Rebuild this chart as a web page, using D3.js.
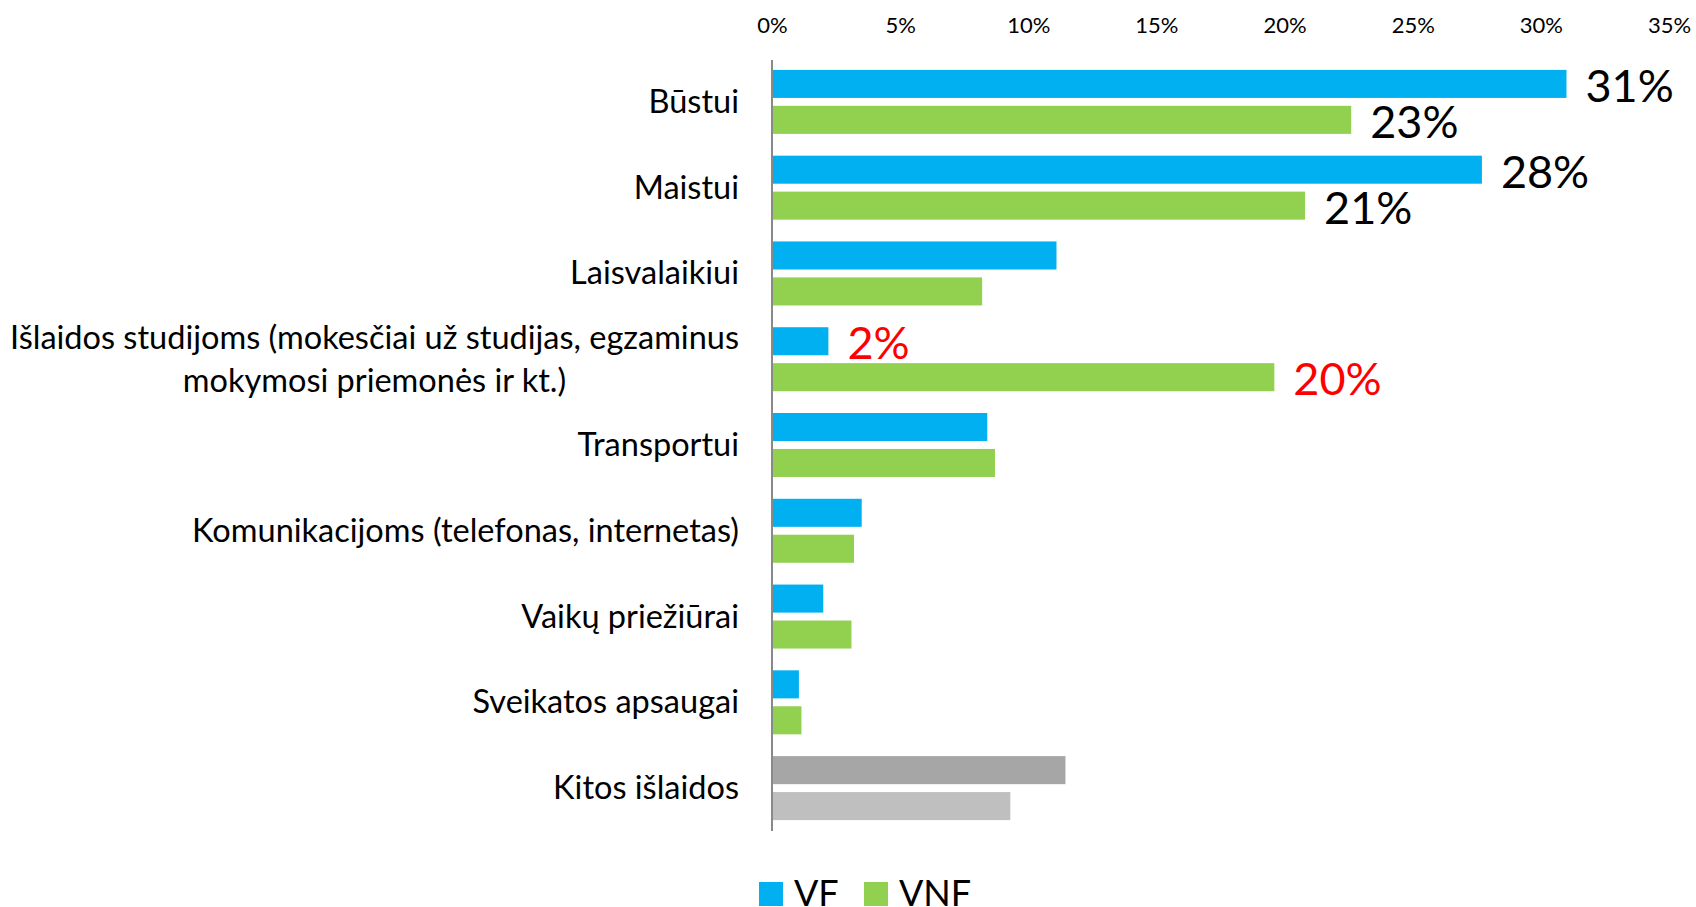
<!DOCTYPE html>
<html>
<head>
<meta charset="utf-8">
<script src="https://cdnjs.cloudflare.com/ajax/libs/d3/7.8.5/d3.min.js"></script>
<style>
    body { margin: 0; background: #fff; }
    text { font-family: Lato, "Noto Sans", sans-serif; }
</style>
</head>
<body>
<div id="chart_area"></div>
<script>

// data
var categories = [
    "Būstui",
    "Maistui",
    "Laisvalaikiui",
    "Išlaidos studijoms (mokesčiai už studijas, egzaminus|mokymosi priemonės ir kt.)",
    "Transportui",
    "Komunikacijoms (telefonas, internetas)",
    "Vaikų priežiūrai",
    "Sveikatos apsaugai",
    "Kitos išlaidos"
];
var seriesNames = ["VF", "VNF"];
var vfValues  = [31.0, 27.7, 11.1, 2.2, 8.4, 3.5, 2.0, 1.05, 11.45];
var vnfValues = [22.6, 20.8, 8.2, 19.6, 8.7, 3.2, 3.1, 1.15, 9.3];
// which rows carry value labels, and in what colour
var labelRows = ["Būstui", "Maistui", "Išlaidos studijoms (mokesčiai už studijas, egzaminus|mokymosi priemonės ir kt.)"];
var labelColors = ["#000", "#000", "#ff0000"];
var tickValues = [0, 5, 10, 15, 20, 25, 30, 35];

var seriesColors = {VF: "#00b0f0", VNF: "#92d050"};
var otherColors = {VF: "#a6a6a6", VNF: "#bfbfbf"};

var width = 1696, height = 907;

var svg = d3.select("#chart_area")
    .append("svg")
        .attr("width", width)
        .attr("height", height);

var data = categories.map(function(c, i){
    return {cat: c, VF: vfValues[i], VNF: vnfValues[i]};
});

//x scale
var x = d3.scaleLinear()
    .domain([0, 35])
    .range([772, 1669]);

//y scale (categories)
var y = d3.scaleBand()
    .domain(categories)
    .range([59, 831])
    .paddingInner(0.254)
    .paddingOuter(0.127);

var ySub = d3.scaleBand()
    .domain(seriesNames)
    .range([0, y.bandwidth()])
    .paddingInner(0.22);

//top axis labels
var xAxis = d3.axisTop(x)
    .tickValues(tickValues)
    .tickSize(0)
    .tickPadding(0)
    .tickFormat(function(d){ return d + "%"; });

svg.append("g")
    .attr("transform", "translate(0,33)")
    .call(xAxis)
    .call(function(g){ g.select(".domain").remove(); })
    .selectAll("text")
        .attr("font-family", "Lato, sans-serif")
        .attr("font-size", "22px")
        .attr("fill", "#000")
        .attr("dy", 0);

//bars
var groups = svg.selectAll(".cat")
    .data(data)
    .enter().append("g")
        .attr("class", "cat")
        .attr("transform", function(d){ return "translate(0," + y(d.cat) + ")"; });

groups.selectAll("rect")
    .data(function(d){
        return seriesNames.map(function(s){ return {cat: d.cat, key: s, value: d[s]}; });
    })
    .enter().append("rect")
        .attr("x", x(0))
        .attr("y", function(d){ return ySub(d.key); })
        .attr("width", function(d){ return x(d.value) - x(0); })
        .attr("height", ySub.bandwidth())
        .attr("fill", function(d){
            return d.cat === "Kitos išlaidos" ? otherColors[d.key] : seriesColors[d.key];
        });

//value labels
groups.filter(function(d){ return labelRows.indexOf(d.cat) >= 0; })
    .selectAll(".val")
    .data(function(d){
        var col = labelColors[labelRows.indexOf(d.cat)];
        return seriesNames.map(function(s){ return {key: s, value: d[s], color: col}; });
    })
    .enter().append("text")
        .attr("class", "val")
        .attr("x", function(d){ return x(d.value) + 19; })
        .attr("y", function(d){ return ySub(d.key) + ySub.bandwidth() / 2 + 18; })
        .attr("font-size", "45px")
        .attr("fill", function(d){ return d.color; })
        .text(function(d){ return Math.round(d.value) + "%"; });

//category labels
groups.each(function(d){
    var g = d3.select(this);
    var lines = d.cat.split("|");
    var mid = y.bandwidth() / 2;
    var lh = 43;
    var t = g.append("text")
        .attr("font-size", "32.5px")
        .attr("fill", "#000");
    lines.forEach(function(l, i){
        t.append("tspan")
            .attr("y", mid + 11 + (i - (lines.length - 1) / 2) * lh)
            .text(l);
    });
    if (lines.length === 1) {
        t.attr("text-anchor", "end").selectAll("tspan").attr("x", 739);
    } else {
        var w = d3.max(t.selectAll("tspan").nodes(), function(n){ return n.getComputedTextLength(); });
        t.attr("text-anchor", "middle").selectAll("tspan").attr("x", 739 - w / 2);
    }
});

//vertical axis line
svg.append("line")
    .attr("x1", x(0)).attr("x2", x(0))
    .attr("y1", 60).attr("y2", 831)
    .attr("stroke", "#898989")
    .attr("stroke-width", 2);

//legend
var legend = svg.selectAll(".legend")
    .data(seriesNames)
    .enter().append("g")
        .attr("class", "legend")
        .attr("transform", function(d, i){ return "translate(" + (759 + i * 105) + ",882)"; });

legend.append("rect")
    .attr("width", 24)
    .attr("height", 24)
    .attr("fill", function(d){ return seriesColors[d]; });

legend.append("text")
    .attr("x", 35)
    .attr("y", 24)
    .attr("font-size", "36px")
    .attr("fill", "#000")
    .text(function(d){ return d; });

</script>
</body>
</html>
